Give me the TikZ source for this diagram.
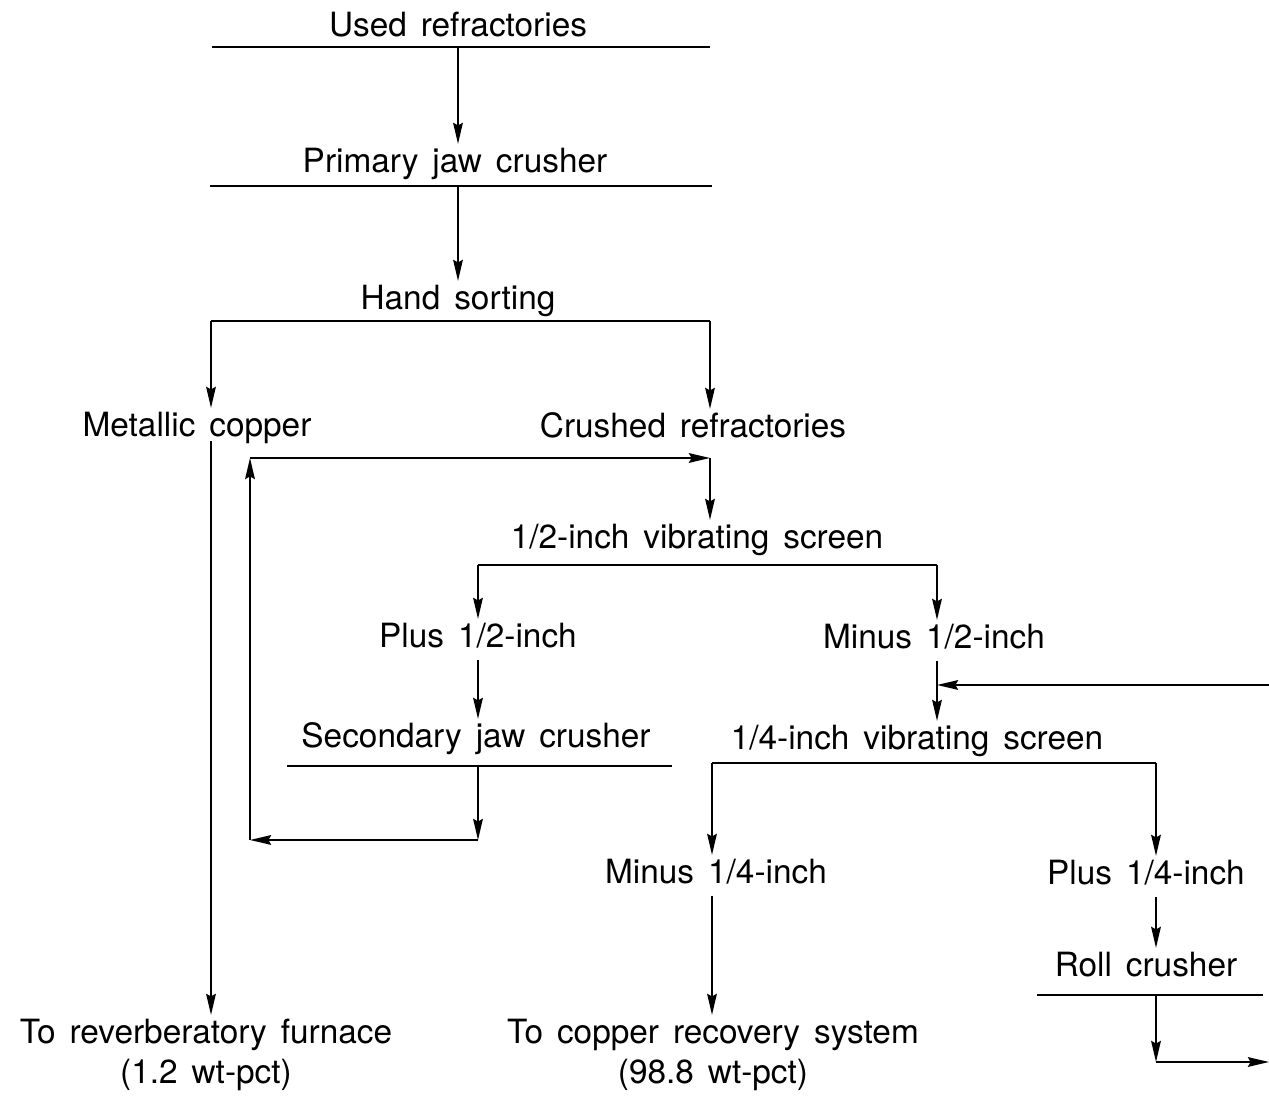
\documentclass[tikz,border=0pt]{standalone}
\usepackage{fontspec}
\setmainfont[WordSpace=1.5]{TeX Gyre Heros}
\usetikzlibrary{arrows.meta}
\tikzset{
  lbl/.style={anchor=base, font=\fontsize{19}{23}\selectfont,
    text height=14pt, text depth=4pt, inner sep=2pt},
  flow/.style={-{Stealth[length=12pt,width=5.5pt,inset=1.5pt]}},
}
\begin{document}
\begin{tikzpicture}[x=0.02cm,y=-0.02cm,line width=1.1pt]
  \useasboundingbox (0,0) rectangle (1269,1097);
  \draw
    (458,37) node[lbl] (used){Used refractories}
    (455,173) node[lbl] (primary){Primary jaw crusher}
    (458,310) node[lbl] (sorting){Hand sorting}
    (197,437) node[lbl] (metal){Metallic copper}
    (693,438) node[lbl] (crushed){Crushed refractories}
    (697,549) node[lbl] (halfscreen){1/2-inch vibrating screen}
    (478,648) node[lbl] (plushalf){Plus 1/2-inch}
    (934,649) node[lbl] (minushalf){Minus 1/2-inch}
    (476,748) node[lbl] (secondary){Secondary jaw crusher}
    (917,750) node[lbl] (quarscreen){1/4-inch vibrating screen}
    (716,884) node[lbl] (minusquar){Minus 1/4-inch}
    (1146,885) node[lbl] (plusquar){Plus 1/4-inch}
    (1146,977) node[lbl] (roll){Roll crusher}
    (206,1044) node[lbl] (furnace){To reverberatory furnace}
    (206,1084) node[lbl] (furnacepct){(1.2 wt-pct)}
    (713,1044) node[lbl] (recovery){To copper recovery system}
    (713,1084) node[lbl] (recoverypct){(98.8 wt-pct)};
  % bars under the units
  \coordinate (usedbar) at (458,47);
  \coordinate (primbar) at (458,186);
  \coordinate (secbar) at (478,766);
  \coordinate (rollbar) at (1156,995);
  \draw (212,47) -- (710,47);
  \draw (210,186) -- (712,186);
  \draw (287,766) -- (672,766);
  \draw (1037,995) -- (1263,995);
  % splits
  \coordinate (sortL) at (211,321);
  \coordinate (sortR) at (710,321);
  \coordinate (halfL) at (478,565);
  \coordinate (halfR) at (937,565);
  \coordinate (quarL) at (712,763);
  \coordinate (quarR) at (1156,763);
  % recycle loops
  \coordinate (retA) at (478,840);
  \coordinate (retB) at (250,840);
  \coordinate (retC) at (250,458);
  \coordinate (retD) at (710,458);
  \coordinate (rollA) at (1156,1062);
  \coordinate (rollE) at (1269,1062);
  \coordinate (backin) at (1269,685);
  \coordinate (joinq) at (937,685);
  \begin{scope}[flow]
    \draw (usedbar) to (primary.north -| usedbar);
    \draw (primbar) to (sorting.north -| primbar);
    \draw[-] (sortL) to (sortR);
    \draw (sortL) to (metal.north -| sortL);
    \draw (sortR) to (crushed.north -| sortR);
    \draw ([yshift=4pt]metal.south -| sortL) to (furnace.north -| sortL);
    \draw (retD) to (halfscreen.north -| retD);
    \draw[-] (halfL) to (halfR);
    \draw (halfL) to (plushalf.north -| halfL);
    \draw (halfR) to (minushalf.north -| halfR);
    \draw (plushalf.south -| halfL) to (secondary.north -| halfL);
    \draw (secbar) to (retA);
    \draw (retA) to (retB);
    \draw (retB) to (retC);
    \draw (retC) to (retD);
    \draw (minushalf.south -| halfR) to (quarscreen.north -| halfR);
    \draw (backin) to (joinq);
    \draw[-] (quarL) to (quarR);
    \draw (quarL) to (minusquar.north -| quarL);
    \draw (quarR) to (plusquar.north -| quarR);
    \draw (minusquar.south -| quarL) to (recovery.north -| quarL);
    \draw (plusquar.south -| quarR) to (roll.north -| quarR);
    \draw (rollbar) to (rollA);
    \draw (rollA) to (rollE);
  \end{scope}
\end{tikzpicture}
\end{document}
